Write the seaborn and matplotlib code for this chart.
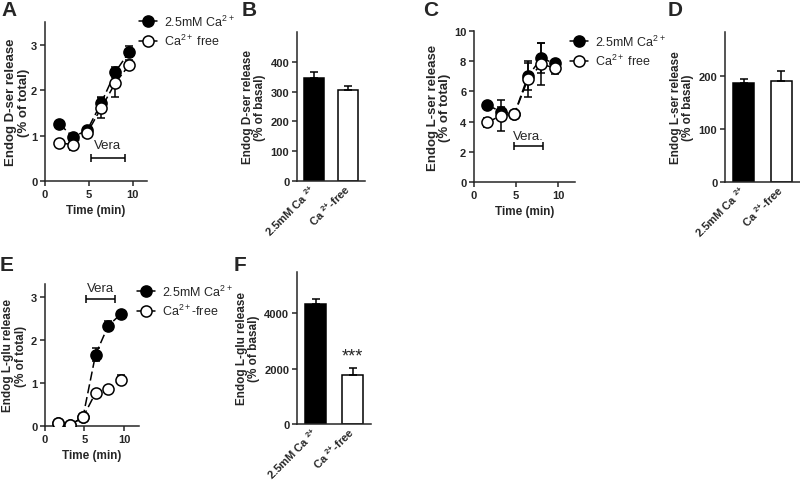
import numpy as np
import matplotlib.pyplot as plt
from matplotlib.lines import Line2D
import seaborn as sns

sns.set_style("ticks")
plt.rcParams["font.family"] = ["Liberation Sans", "DejaVu Sans"]
plt.rcParams["mathtext.fontset"] = "custom"
plt.rcParams["mathtext.rm"] = "Liberation Sans"
plt.rcParams["mathtext.bf"] = "Liberation Sans:bold"
plt.rcParams["mathtext.it"] = "Liberation Sans:italic"

# --- data ---
time_min = [1.6, 3.2, 4.8, 6.4, 8.0, 9.6]

# A: D-serine release (% of total)
dser_ca = [1.26, 0.97, 1.12, 1.72, 2.40, 2.85]
dser_ca_err = [0.05, 0.05, 0.05, 0.14, 0.10, 0.13]
dser_free = [0.84, 0.80, 1.06, 1.61, 2.16, 2.56]
dser_free_err = [0.05, 0.12, 0.05, 0.22, 0.30, 0.10]

# C: L-serine release (% of total)
lser_ca = [5.10, 4.65, 4.50, 7.00, 8.20, 7.85]
lser_ca_err = [0.10, 0.30, 0.10, 0.90, 1.00, 0.15]
lser_free = [3.95, 4.40, 4.50, 6.80, 7.80, 7.55]
lser_free_err = [0.30, 1.00, 0.10, 1.20, 1.40, 0.40]

# E: L-glutamate release (% of total)
lglu_ca = [0.07, 0.03, 0.20, 1.66, 2.33, 2.60]
lglu_ca_err = [0.03, 0.03, 0.03, 0.15, 0.10, 0.05]
lglu_free = [0.07, 0.03, 0.20, 0.77, 0.85, 1.08]
lglu_free_err = [0.02, 0.02, 0.03, 0.05, 0.05, 0.10]

# bar panels (% of basal)
bar_groups = ["2.5mM Ca2+", "Ca2+-free"]
bar_ticklabels = ["2.5mM Ca $^{\\mathbf{2{+}}}$", "Ca $^{\\mathbf{2{+}}}$-free"]
dser_basal = [347, 306]
dser_basal_err = [20, 14]
lser_basal = [186, 190]
lser_basal_err = [8, 20]
lglu_basal = [4360, 1790]
lglu_basal_err = [150, 250]

W, H = 800, 481
fig = plt.figure(figsize=(W / 100, H / 100), dpi=100)


def add_ax(left, top, right, bottom):
    return fig.add_axes([left / W, 1 - bottom / H, (right - left) / W, (bottom - top) / H])


def style(ax):
    sns.despine(ax=ax)
    for s in ["left", "bottom"]:
        ax.spines[s].set_linewidth(1.1)
    ax.tick_params(direction="out", length=3.5, width=1.1, labelsize=8, pad=2)
    for lab in ax.get_xticklabels() + ax.get_yticklabels():
        lab.set_fontweight("bold")


def time_course(ax, ca, ca_err, free, free_err):
    for vals, errs, face, z in [(ca, ca_err, "black", 2), (free, free_err, "white", 4)]:
        ax.errorbar(time_min, vals, yerr=errs, fmt="none", ecolor="black",
                    elinewidth=1.1, capsize=3, capthick=1.1, zorder=z)
        sns.lineplot(x=time_min, y=vals, ax=ax, color="black", linewidth=1.1,
                     linestyle=(0, (6, 2.5)), marker="o", markersize=8,
                     markerfacecolor=face, markeredgecolor="black",
                     markeredgewidth=1.1, zorder=z + 1)
    ax.set_xlabel("Time (min)", fontsize=8.5, fontweight="bold", labelpad=4)
    ax.set_xticks([0, 5, 10])


def vera(ax, x0, x1, y, text, ty):
    ax.errorbar((x0 + x1) / 2, y, xerr=(x1 - x0) / 2, fmt="none", ecolor="black",
                elinewidth=1.1, capsize=3, capthick=1.1)
    ax.text((x0 + x1) / 2, ty, text, ha="center", va="center", fontsize=9.5)


def legend(ax, labels, x, y):
    handles = [Line2D([], [], color="black", linewidth=1.1, marker="o", markersize=8,
                      markerfacecolor=f, markeredgecolor="black", markeredgewidth=1.1)
               for f in ["black", "white"]]
    ax.legend(handles, labels, loc="center left", bbox_to_anchor=(x / W, 1 - y / H),
              bbox_transform=fig.transFigure, frameon=False, fontsize=9,
              handlelength=1.4, handletextpad=0.6, labelspacing=0.35,
              borderpad=0, borderaxespad=0)


def bar_panel(ax, vals, errs):
    sns.barplot(x=bar_groups, y=vals, hue=bar_groups, palette=["black", "white"],
                edgecolor="black", linewidth=1.1, width=0.56, errorbar=None,
                legend=False, ax=ax)
    ax.errorbar(np.arange(len(vals)), vals, yerr=[np.zeros(len(vals)), errs],
                fmt="none", ecolor="black", elinewidth=1.1, capsize=3, capthick=1.1)
    ax.set_xlim(-0.5, 1.5)
    ax.set_xticks(np.arange(len(vals)))
    ax.set_xticklabels(bar_ticklabels, rotation=45, ha="right", va="center",
                       rotation_mode="anchor")
    ax.set_xlabel("")


def ylabel(ax, text, size, pad=3):
    ax.set_ylabel(text, fontsize=size, fontweight="bold", linespacing=1.05, labelpad=pad)


# A
axA = add_ax(45, 23, 147, 182)
time_course(axA, dser_ca, dser_ca_err, dser_free, dser_free_err)
vera(axA, 5.2, 9.1, 0.5, "Vera", 0.8)
axA.set_xlim(0, 11.6)
axA.set_ylim(0, 3.5)
axA.set_yticks([0, 1, 2, 3])
ylabel(axA, "Endog D-ser release\n(% of total)", 9.5, pad=1)
style(axA)
legend(axA, ["2.5mM Ca$^{2+}$", "Ca$^{2+}$ free"], 139, 32)

# B
axB = add_ax(297, 33, 365, 182)
bar_panel(axB, dser_basal, dser_basal_err)
axB.set_ylim(0, 500)
axB.set_yticks([0, 100, 200, 300, 400])
ylabel(axB, "Endog D-ser release\n(% of basal)", 8.5)
style(axB)
axB.tick_params(axis="x", length=0, pad=4)

# C
axC = add_ax(474, 32, 575, 183)
time_course(axC, lser_ca, lser_ca_err, lser_free, lser_free_err)
vera(axC, 4.8, 8.2, 2.4, "Vera.", 3.05)
axC.set_xlim(0, 12)
axC.set_ylim(0, 10)
axC.set_yticks([0, 2, 4, 6, 8, 10])
ylabel(axC, "Endog L-ser release\n(% of total)", 9.5, pad=2)
style(axC)
legend(axC, ["2.5mM Ca$^{2+}$", "Ca$^{2+}$ free"], 570, 52)

# D
axD = add_ax(725, 33, 800, 183)
bar_panel(axD, lser_basal, lser_basal_err)
axD.set_ylim(0, 283)
axD.set_yticks([0, 100, 200])
ylabel(axD, "Endog L-ser release\n(% of basal)", 8.5)
style(axD)
axD.tick_params(axis="x", length=0, pad=4)

# E
axE = add_ax(45, 285, 139, 427)
time_course(axE, lglu_ca, lglu_ca_err, lglu_free, lglu_free_err)
vera(axE, 5.2, 8.9, 2.95, "Vera", 3.2)
axE.set_xlim(0, 11.9)
axE.set_ylim(0, 3.3)
axE.set_yticks([0, 1, 2, 3])
ylabel(axE, "Endog L-glu release\n(% of total)", 8.5)
style(axE)
legend(axE, ["2.5mM Ca$^{2+}$", "Ca$^{2+}$-free"], 137, 302)

# F
axF = add_ax(297, 273, 371, 425)
bar_panel(axF, lglu_basal, lglu_basal_err)
axF.set_ylim(0, 5500)
axF.set_yticks([0, 2000, 4000])
ylabel(axF, "Endog L-glu release\n(% of basal)", 8.5)
style(axF)
axF.tick_params(axis="x", length=0, pad=4)
axF.text(1, lglu_basal[1] + lglu_basal_err[1] + 120, "***", ha="center", va="bottom",
         fontsize=13)

# panel letters
for letter, x, y in [("A", 1, 1), ("B", 242, 1), ("C", 423, 1), ("D", 668, 1),
                     ("E", 0, 256), ("F", 234, 256)]:
    fig.text(x / W, 1 - y / H, letter, fontsize=15, fontweight="bold", ha="left", va="top")

fig.savefig("out.png", dpi=100)
